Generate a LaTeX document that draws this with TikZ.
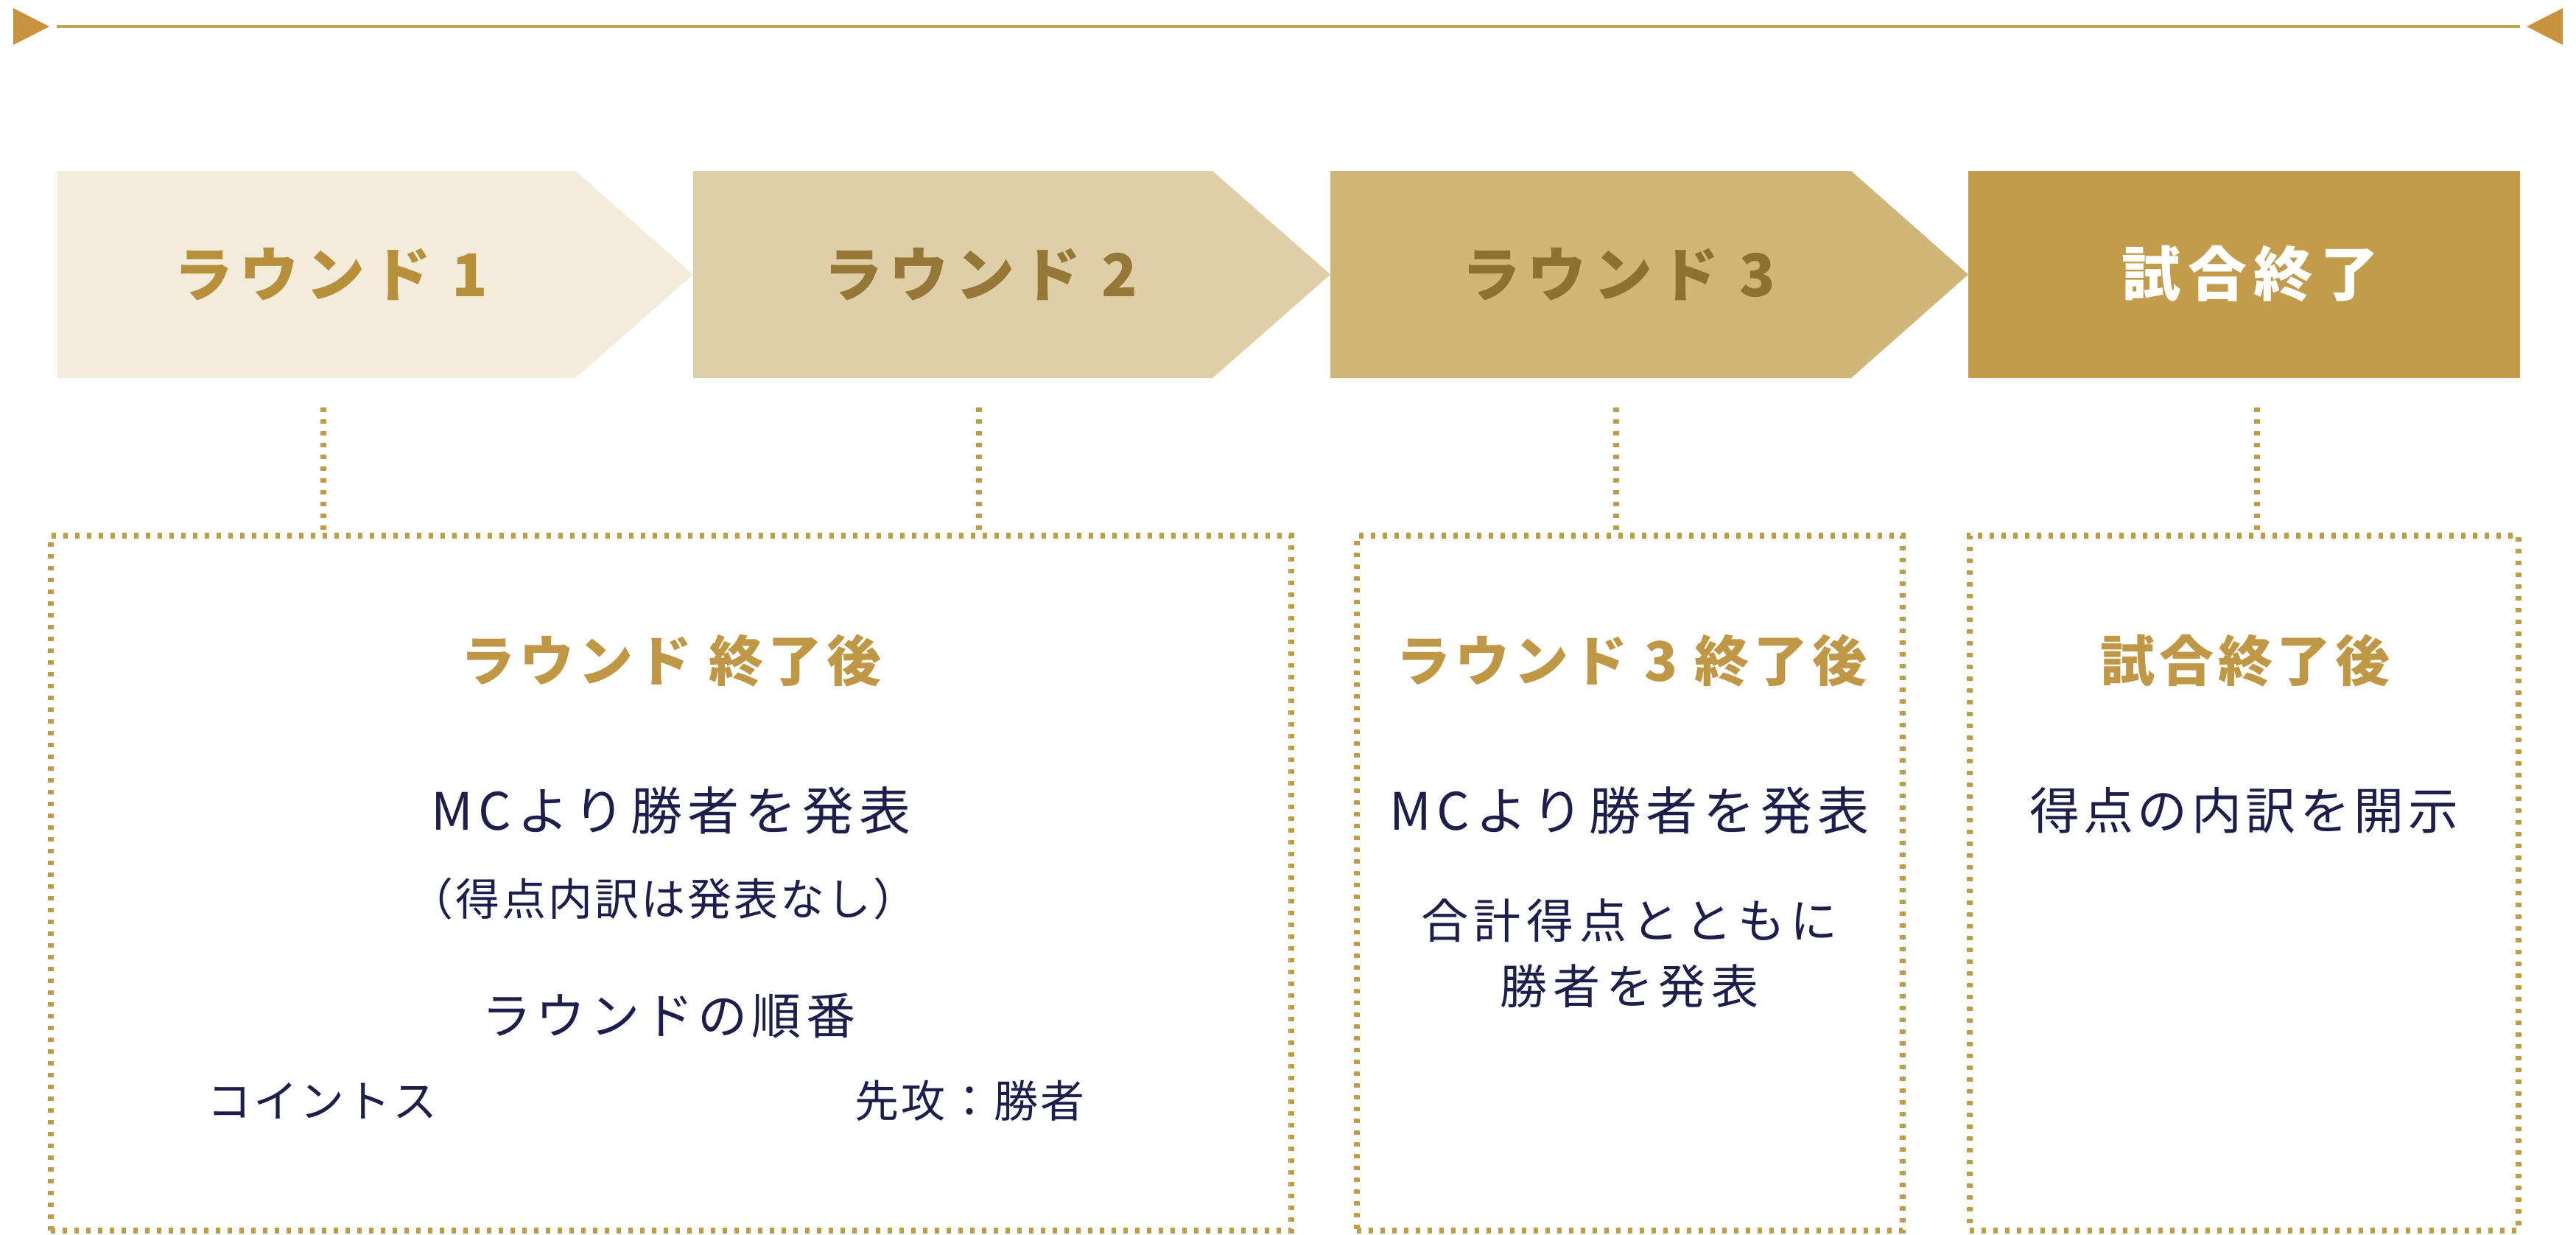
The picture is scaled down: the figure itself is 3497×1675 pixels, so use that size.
\documentclass[tikz,border=0pt]{standalone}
\usepackage{fontspec}
\newfontfamily\jp{Noto Sans CJK JP}
\definecolor{linegold}{HTML}{BBA550}
\definecolor{trigold}{HTML}{C9923F}
\definecolor{cA}{HTML}{F3ECDB}
\definecolor{cB}{HTML}{DFCEA6}
\definecolor{cC}{HTML}{D0B679}
\definecolor{cD}{HTML}{C29C4B}
\definecolor{tA}{HTML}{B8903C}
\definecolor{tB}{HTML}{957838}
\definecolor{tC}{HTML}{8C7232}
\definecolor{dotc}{HTML}{BE9C4A}
\definecolor{head}{HTML}{C09845}
\definecolor{navy}{HTML}{1E1E4C}
\begin{document}
\begin{tikzpicture}[x=0.25pt,y=-0.25pt,
  chevtxt/.style={inner sep=0pt, font=\jp\bfseries\fontsize{20pt}{23pt}\selectfont\addfontfeatures{LetterSpace=12}},
  headtxt/.style={inner sep=0pt, text=head, font=\jp\bfseries\fontsize{18.5pt}{21pt}\selectfont\addfontfeatures{LetterSpace=8}},
  bodytxt/.style={inner sep=0pt, text=navy, font=\jp\fontsize{17.5pt}{20pt}\selectfont\addfontfeatures{LetterSpace=11}},
  smalltxt/.style={inner sep=0pt, text=navy, font=\jp\fontsize{15pt}{18pt}\selectfont\addfontfeatures{LetterSpace=5}},
  dotline/.style={draw=dotc, line width=2.2pt, dash pattern=on 1.5pt off 2.5pt},
  dotbox/.style={dotline, rectangle, inner sep=0pt, outer sep=0pt},
]
\useasboundingbox (0,0) rectangle (3497,1675);
% top timeline
\fill[trigold] (18,11) -- (67,36) -- (18,61) -- cycle;
\fill[trigold] (3479,11) -- (3430,36) -- (3479,61) -- cycle;
\coordinate (lineL) at (77,36);
\coordinate (lineR) at (3421,36);
\draw[linegold, line width=1.2pt] (lineL) -- (lineR);
% chevrons
\fill[cA] (78,232) -- (781,232) -- (941,372.5) -- (781,513) -- (78,513) -- cycle;
\fill[cB] (941,232) -- (1646,232) -- (1806,372.5) -- (1646,513) -- (941,513) -- cycle;
\fill[cC] (1806,232) -- (2513,232) -- (2672,372.5) -- (2513,513) -- (1806,513) -- cycle;
\fill[cD] (2672,232) rectangle (3421,513);
\node[chevtxt, text=tA] (r1) at (449,372) {ラウンド 1};
\node[chevtxt, text=tB] (r2) at (1331,372) {ラウンド 2};
\node[chevtxt, text=tC] (r3) at (2197,372) {ラウンド 3};
\node[chevtxt, text=white] (r4) at (3055,372) {試合終了};
% boxes
\node[dotbox, minimum width=421pt, minimum height=235.75pt] (b1) at (911,1198.5) {};
\node[dotbox, minimum width=185.25pt, minimum height=235.75pt] (b2) at (2212.5,1198.5) {};
\node[dotbox, minimum width=186.25pt, minimum height=235.75pt] (b3) at (3046.5,1198.5) {};
% connectors
\coordinate (k1) at (439,553);
\coordinate (k2) at (1329,553);
\coordinate (k3) at (2194,553);
\coordinate (k4) at (3064,553);
\draw[dotline] (k1) -- (k1 |- b1.north);
\draw[dotline] (k2) -- (k2 |- b1.north);
\draw[dotline] (k3) -- (k3 |- b2.north);
\draw[dotline] (k4) -- (k4 |- b3.north);
% box 1 texts
\node[headtxt] (h1) at (911,897) {ラウンド 終了後};
\node[bodytxt] (m1) at (911,1100) {MCより勝者を発表};
\node[smalltxt] (n1) at (900,1220) {（得点内訳は発表なし）};
\node[bodytxt, font=\jp\fontsize{16.8pt}{20pt}\selectfont\addfontfeatures{LetterSpace=9}] (o1) at (908,1378) {ラウンドの順番};
\node[smalltxt] (c1) at (437,1494) {コイントス};
\node[smalltxt] (s1) at (1316,1494) {先攻：勝者};
% box 2 texts
\node[headtxt] (h2) at (2215,897) {ラウンド 3 終了後};
\node[bodytxt] (m2) at (2212,1100) {MCより勝者を発表};
\node[smalltxt, font=\jp\fontsize{16pt}{20pt}\selectfont\addfontfeatures{LetterSpace=12}] (g2) at (2212,1249) {合計得点とともに};
\node[smalltxt, font=\jp\fontsize{16pt}{20pt}\selectfont\addfontfeatures{LetterSpace=12}] (w2) at (2212,1338) {勝者を発表};
% box 3 texts
\node[headtxt] (h3) at (3048,897) {試合終了後};
\node[bodytxt, font=\jp\fontsize{17pt}{20pt}\selectfont\addfontfeatures{LetterSpace=8}] (d3) at (3046,1100) {得点の内訳を開示};
\end{tikzpicture}
\end{document}
